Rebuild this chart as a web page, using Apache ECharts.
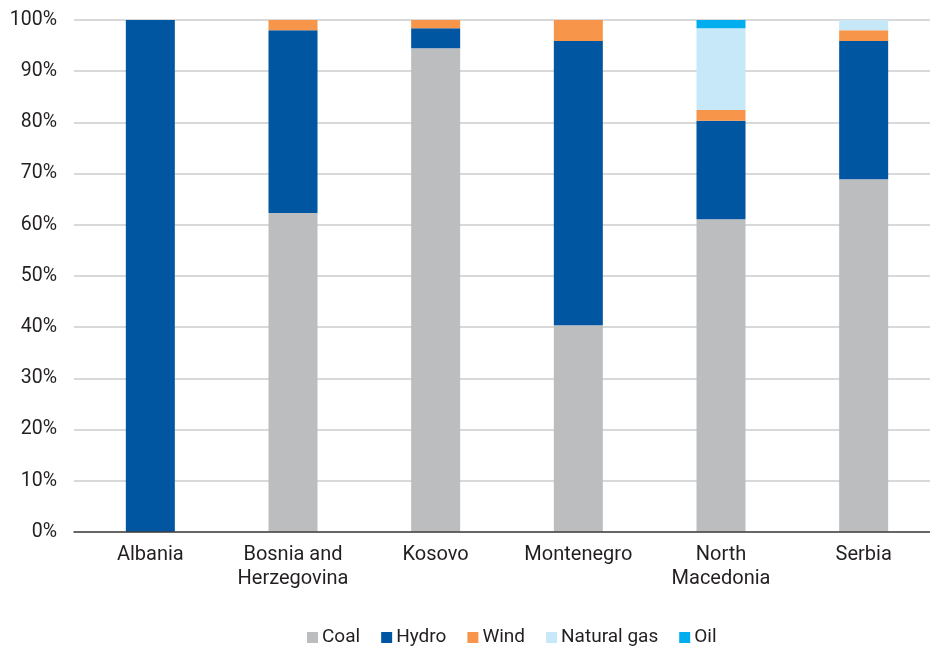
<!DOCTYPE html>
<html>
<head>
<meta charset="utf-8">
<script src="https://cdn.jsdelivr.net/npm/echarts@6/dist/echarts.min.js"></script>
<style>
  html, body { margin: 0; padding: 0; background: #ffffff; overflow: hidden; }
  #chart { width: 936px; height: 646px; }
</style>
</head>
<body>
<div id="chart"></div>
<script>
// Electricity generation mix by source (share of total, %)
const countries = ['Albania', 'Bosnia and\nHerzegovina', 'Kosovo', 'Montenegro', 'North\nMacedonia', 'Serbia'];
const coal       = [0,   62.3, 94.5, 40.4, 61.1, 68.9];
const hydro      = [100, 35.7, 3.9,  55.5, 19.2, 27.0];
const wind       = [0,   2.0,  1.6,  4.1,  2.1,  2.1];
const naturalGas = [0,   0,    0,    0,    16.0, 2.0];
const oil        = [0,   0,    0,    0,    1.6,  0];
const yTicks = [0, 10, 20, 30, 40, 50, 60, 70, 80, 90, 100];

const palette = {
  Coal: '#BCBDBF',
  Hydro: '#0056A1',
  Wind: '#F7964A',
  'Natural gas': '#C6E8F8',
  Oil: '#00AEEF'
};

const seriesDefs = [
  ['Coal', coal],
  ['Hydro', hydro],
  ['Wind', wind],
  ['Natural gas', naturalGas],
  ['Oil', oil]
];

const font = 'Roboto, "Liberation Sans", sans-serif';
const chart = echarts.init(document.getElementById('chart'), null, { renderer: 'canvas' });

chart.setOption({
  animation: false,
  textStyle: { fontFamily: font },
  grid: [
    // plotting grid for the bars and labels
    { left: 79, top: 20, width: 856, height: 512, containLabel: false },
    // slightly wider background grid carrying gridlines and the baseline
    { left: 74, top: 20, width: 861, height: 512, containLabel: false }
  ],
  legend: {
    top: 623,
    left: 302,
    itemWidth: 11,
    itemHeight: 11,
    itemGap: 21,
    icon: 'rect',
    textStyle: { fontFamily: font, fontSize: 19, color: '#231F20', padding: [0, 0, 0, -1] },
    data: seriesDefs.map(d => d[0])
  },
  xAxis: [
    {
      gridIndex: 0,
      type: 'category',
      data: countries,
      axisLine: { show: false },
      axisTick: { show: false },
      axisLabel: {
        fontFamily: font,
        fontSize: 20,
        color: '#231F20',
        margin: 11,
        lineHeight: 24,
        interval: 0
      },
      z: 3
    },
    {
      gridIndex: 1,
      type: 'category',
      data: countries,
      axisLine: { lineStyle: { color: '#404040', width: 1.5 } },
      axisTick: { show: false },
      axisLabel: { show: false },
      z: 3
    }
  ],
  yAxis: [
    {
      gridIndex: 0,
      type: 'value',
      min: yTicks[0],
      max: yTicks[yTicks.length - 1],
      interval: 10,
      axisLine: { show: false },
      axisTick: { show: false },
      splitLine: { show: false },
      axisLabel: {
        fontFamily: font,
        fontSize: 19.5,
        color: '#231F20',
        margin: 22,
        formatter: v => v + '%'
      }
    },
    {
      gridIndex: 1,
      type: 'value',
      min: yTicks[0],
      max: yTicks[yTicks.length - 1],
      interval: 10,
      axisLine: { show: false },
      axisTick: { show: false },
      axisLabel: { show: false },
      splitLine: { lineStyle: { color: '#D9D9D9', width: 2 } },
      z: 0
    }
  ],
  series: seriesDefs.map(([name, values]) => ({
    name,
    type: 'bar',
    stack: 'mix',
    xAxisIndex: 0,
    yAxisIndex: 0,
    barWidth: 49,
    data: values,
    itemStyle: { color: palette[name] },
    emphasis: { disabled: true },
    z: 2
  }))
});
</script>
</body>
</html>
